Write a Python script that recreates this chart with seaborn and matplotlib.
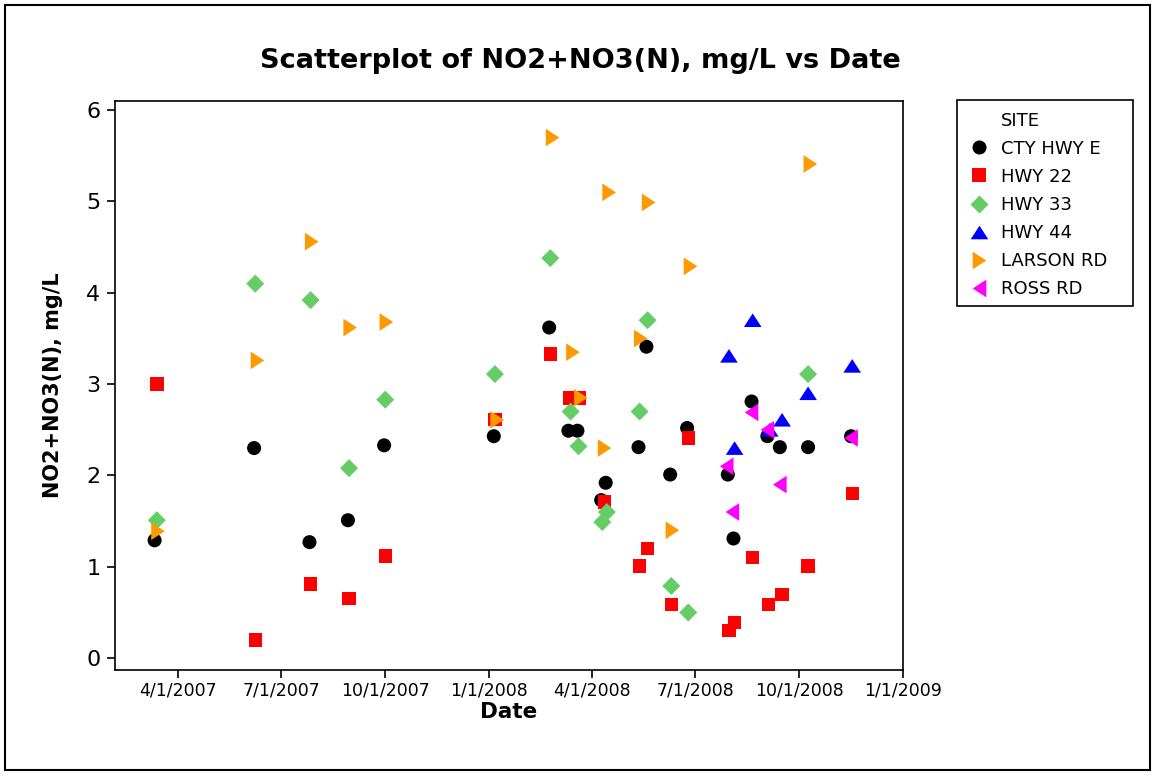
import matplotlib
matplotlib.use("Agg")
from matplotlib import pyplot as plt
from matplotlib.lines import Line2D
from matplotlib.markers import MarkerStyle
from matplotlib.patches import Rectangle
import numpy as np
import pandas as pd
import seaborn as sns

# --- data ----------------------------------------------------------------
sites = ["CTY HWY E", "HWY 22", "HWY 33", "HWY 44", "LARSON RD", "ROSS RD"]

cty_dates = ["2007-03-11", "2007-06-07", "2007-07-26", "2007-08-29", "2007-09-30",
             "2008-01-05", "2008-02-23", "2008-03-11", "2008-03-19", "2008-04-09",
             "2008-04-13", "2008-05-12", "2008-05-19", "2008-06-09", "2008-06-24",
             "2008-07-30", "2008-08-04", "2008-08-20", "2008-09-03", "2008-09-14",
             "2008-10-09", "2008-11-16"]
cty_vals = [1.29, 2.30, 1.27, 1.51, 2.33, 2.43, 3.62, 2.49, 2.49, 1.73, 1.92,
            2.31, 3.41, 2.01, 2.52, 2.01, 1.31, 2.81, 2.43, 2.31, 2.31, 2.43]

hwy22_dates = ["2007-03-13", "2007-06-08", "2007-07-27", "2007-08-30", "2007-10-01",
               "2008-01-06", "2008-02-24", "2008-03-12", "2008-03-21", "2008-04-12",
               "2008-05-13", "2008-05-20", "2008-06-10", "2008-06-25", "2008-07-31",
               "2008-08-05", "2008-08-21", "2008-09-04", "2008-09-16", "2008-10-09",
               "2008-11-17"]
hwy22_vals = [3.00, 0.20, 0.81, 0.65, 1.12, 2.61, 3.33, 2.85, 2.85, 1.71, 1.01,
              1.20, 0.59, 2.41, 0.30, 0.39, 1.10, 0.59, 0.70, 1.01, 1.80]

hwy33_dates = ["2007-03-13", "2007-06-08", "2007-07-27", "2007-08-30", "2007-10-01",
               "2008-01-06", "2008-02-24", "2008-03-13", "2008-03-20", "2008-04-10",
               "2008-04-14", "2008-05-13", "2008-05-20", "2008-06-10", "2008-06-25",
               "2008-10-09"]
hwy33_vals = [1.51, 4.10, 3.92, 2.08, 2.83, 3.11, 4.38, 2.70, 2.32, 1.49, 1.60,
              2.70, 3.70, 0.79, 0.50, 3.11]

hwy44_dates = ["2008-07-31", "2008-08-05", "2008-08-21", "2008-09-05", "2008-09-16",
               "2008-10-09", "2008-11-17"]
hwy44_vals = [3.31, 2.30, 3.70, 2.50, 2.61, 2.90, 3.20]

larson_dates = ["2007-03-14", "2007-06-10", "2007-07-28", "2007-08-31", "2007-10-02",
                "2008-01-08", "2008-02-26", "2008-03-15", "2008-03-22", "2008-04-12",
                "2008-04-16", "2008-05-14", "2008-05-21", "2008-06-11", "2008-06-27",
                "2008-10-11"]
larson_vals = [1.39, 3.26, 4.56, 3.62, 3.68, 2.61, 5.70, 3.35, 2.85, 2.30, 5.10,
               3.50, 4.99, 1.40, 4.29, 5.41]

ross_dates = ["2008-07-29", "2008-08-03", "2008-08-20", "2008-09-03", "2008-09-14",
              "2008-11-16"]
ross_vals = [2.10, 1.60, 2.69, 2.50, 1.90, 2.41]

x_tick_labels = ["4/1/2007", "7/1/2007", "10/1/2007", "1/1/2008",
                 "4/1/2008", "7/1/2008", "10/1/2008", "1/1/2009"]
y_ticks = [0, 1, 2, 3, 4, 5, 6]

# --- styling ----------------------------------------------------------------
colors = ["#000000", "#FF0000", "#66CC66", "#0000FF", "#FF9900", "#FF00FF"]
shapes = [
    MarkerStyle("o"),
    MarkerStyle("s"),
    MarkerStyle([(0, 1), (1, 0), (0, -1), (-1, 0)]),
    MarkerStyle([(-1, -0.77), (1, -0.77), (0, 0.77)]),
    MarkerStyle([(-0.77, -1), (-0.77, 1), (0.77, 0)]),
    MarkerStyle([(0.77, -1), (0.77, 1), (-0.77, 0)]),
]
areas = [102, 92, 168, 162, 162, 162]

sns.set_style("ticks")
plt.rcParams["font.family"] = ["DejaVu Sans"]
for key in ["axes.edgecolor", "xtick.color", "ytick.color", "text.color", "axes.labelcolor"]:
    plt.rcParams[key] = "black"

df = pd.concat([
    pd.DataFrame({"Date": pd.to_datetime(d), "Value": v, "SITE": s})
    for d, v, s in [(cty_dates, cty_vals, sites[0]), (hwy22_dates, hwy22_vals, sites[1]),
                    (hwy33_dates, hwy33_vals, sites[2]), (hwy44_dates, hwy44_vals, sites[3]),
                    (larson_dates, larson_vals, sites[4]), (ross_dates, ross_vals, sites[5])]
], ignore_index=True)

fig = plt.figure(figsize=(11.56, 7.76), dpi=100)
ax = fig.add_axes([0.0995, 0.1366, 0.6817, 0.7332])

sns.scatterplot(
    data=df, x="Date", y="Value",
    hue="SITE", style="SITE", size="SITE",
    hue_order=sites, style_order=sites, size_order=sites,
    palette=dict(zip(sites, colors)),
    markers=dict(zip(sites, shapes)),
    sizes=dict(zip(sites, areas)),
    linewidth=0, legend=False, ax=ax,
)

tick_dates = pd.to_datetime(x_tick_labels, format="%m/%d/%Y")
ax.set_xlim(pd.Timestamp("2007-02-04"), pd.Timestamp("2009-01-01"))
ax.set_xticks(tick_dates)
ax.set_xticklabels(x_tick_labels)
ax.set_ylim(-0.13, 6.1)
ax.set_yticks(y_ticks)

for sp in ax.spines.values():
    sp.set_visible(True)
    sp.set_linewidth(1.2)
ax.tick_params(axis="x", labelsize=12.5, length=5.5, width=1.2, pad=3)
ax.tick_params(axis="y", labelsize=16, length=5.5, width=1.2, pad=5)

ax.set_xlabel("Date", fontsize=15.5, fontweight="bold")
ax.set_ylabel("NO2+NO3(N), mg/L", fontsize=15, fontweight="bold")
ax.xaxis.set_label_coords(0.5, -0.056)
ax.yaxis.set_label_coords(-0.066, 0.5)

fig.suptitle("Scatterplot of NO2+NO3(N), mg/L vs Date", x=0.502, y=0.921,
             va="center", fontsize=19.5, fontweight="bold")

# legend with a plain header row
handles = [Line2D([], [], linestyle="none", marker="")]
for c, m, a in zip(colors, shapes, areas):
    handles.append(Line2D([], [], linestyle="none", marker=m, markersize=np.sqrt(a),
                          markerfacecolor=c, markeredgewidth=0))
fig.legend(handles, ["SITE"] + sites, loc="upper left",
           bbox_to_anchor=(0.8391, 0.8563), bbox_transform=fig.transFigure,
           frameon=False, fontsize=13, borderpad=0, borderaxespad=0,
           handlelength=1.0, handletextpad=0.72, labelspacing=0.56)
fig.add_artist(Rectangle((0.8279, 0.6057), 0.1522, 0.2655, transform=fig.transFigure,
                         fill=False, edgecolor="black", linewidth=1.2))

# outer border
fig.add_artist(Rectangle((0.0043, 0.0077), 0.9905, 0.9858, transform=fig.transFigure,
                         fill=False, edgecolor="black", linewidth=1.5))

fig.savefig("out.png", dpi=100)
